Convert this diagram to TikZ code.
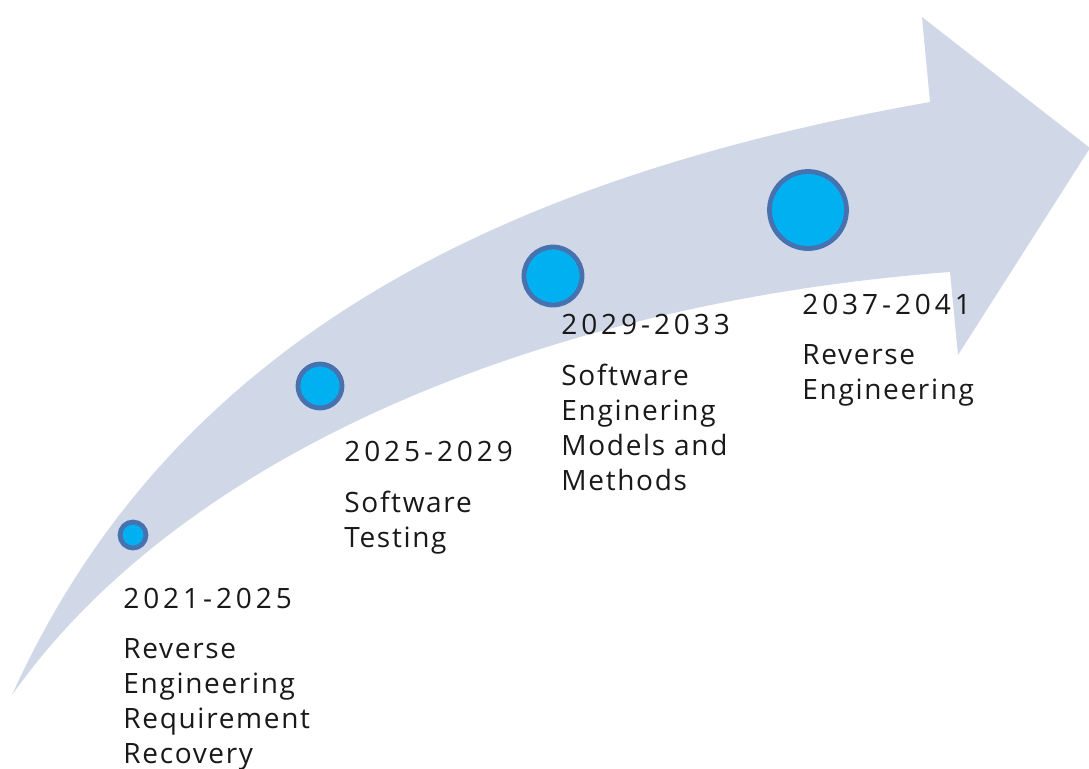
\documentclass[tikz,border=0pt]{standalone}
\usepackage{fontspec}
\setmainfont{Open Sans}[LetterSpace=6]
\usetikzlibrary{positioning}
\definecolor{arrowfill}{RGB}{208,216,232}
\definecolor{dotfill}{RGB}{0,176,240}
\definecolor{dotline}{RGB}{71,114,175}

\begin{document}
\begin{tikzpicture}[x=0.5pt,y=-0.5pt,
  dot/.style={circle,fill=dotfill,draw=dotline,line width=2.4pt,inner sep=0pt},
  year/.style={anchor=base west,inner sep=0pt,text=black!90,
    font=\fontsize{14}{17.5}\selectfont\addfontfeatures{LetterSpace=14}},
  topic/.style={inner sep=0pt,align=left,text=black!90,
    font=\fontsize{14}{17.5}\selectfont}]
\useasboundingbox (0,0) rectangle (1089,768);
\begin{scope}
\clip (0,0) rectangle (1089,768);
% the big curved arrow
\fill [arrowfill] (12,695) .. controls (168,349) and (487,180) .. (930,102)
  -- (922,17) -- (1090,148) -- (958,355) -- (950,272)
  .. controls (551,302) and (185,450) .. (12,695) -- cycle;
\end{scope}
% milestones
\node [dot,minimum size=13pt] (c1) at (133,535) {};
\node [dot,minimum size=22pt] (c2) at (320,386) {};
\node [dot,minimum size=29pt] (c3) at (553,276) {};
\node [dot,minimum size=38.5pt] (c4) at (808,210) {};
% texts
\node [year] (d1) at (123,608) {2021-2025};
\node [topic,below=15pt of d1.base west,anchor=north west] (t1)
  {Reverse\\Engineering\\Requirement\\Recovery};
\node [year] (d2) at (344,461) {2025-2029};
\node [topic,below=15pt of d2.base west,anchor=north west] (t2)
  {Software\\Testing};
\node [year] (d3) at (561,334) {2029-2033};
\node [topic,below=15pt of d3.base west,anchor=north west] (t3)
  {Software\\Enginering\\Models and\\Methods};
\node [year] (d4) at (802,314) {2037-2041};
\node [topic,below=15pt of d4.base west,anchor=north west] (t4)
  {Reverse\\Engineering};
\end{tikzpicture}
\end{document}
